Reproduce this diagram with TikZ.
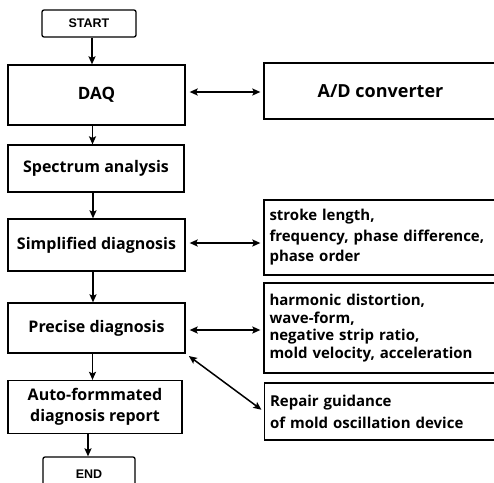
\documentclass[tikz,border=0pt]{standalone}
\usepackage{fontspec}
\setmainfont{Open Sans}
\newfontfamily\termfont{Liberation Sans}
\usetikzlibrary{calc}
\usetikzlibrary{arrows.meta}

\tikzset{
  box/.style={draw, line width=1.3pt, inner sep=2pt, align=center, font=\bfseries\fontsize{16}{19}\selectfont},
  termbox/.style={draw, line width=1.3pt, rounded corners=2pt, font=\termfont\bfseries\fontsize{12.5}{14}\selectfont},
  infobox/.style={draw, line width=1.3pt, inner sep=5pt, align=left, text width=222pt, minimum width=233pt, font=\bfseries\fontsize{15}{18}\selectfont},
  flow/.style={-{Stealth[length=8pt,width=7pt,inset=1.5pt]}, line width=1.5pt},
  both/.style={{Stealth[length=8pt,width=7pt,inset=1.5pt]}-{Stealth[length=8pt,width=7pt,inset=1.5pt]}, line width=1.5pt, shorten <=4pt, shorten >=3pt}
}

\begin{document}
\begin{tikzpicture}[x=1pt,y=-1pt]
\useasboundingbox (0,0) rectangle (494,482);
\clip (0,0) rectangle (494,482);
% flow column
\node[termbox, minimum width=94pt, minimum height=27pt] (start) at (89,23.5) {START};
\node[box, minimum width=177pt, minimum height=60pt, font=\bfseries\fontsize{17}{20}\selectfont] (daq) at (96.5,95) {DAQ};
\node[box, minimum width=176pt, minimum height=47pt] (spec) at (96,168.5) {Spectrum analysis};
\node[box, minimum width=177pt, minimum height=52pt] (simp) at (96.5,245) {Simplified diagnosis};
\node[box, minimum width=177pt, minimum height=50pt] (prec) at (96.5,328) {Precise diagnosis};
\node[box, minimum width=174pt, minimum height=53pt, font=\bfseries\fontsize{16}{20.5}\selectfont] (auto) at (95,407) {Auto-formmated\\diagnosis report};
\node[termbox, minimum width=92pt, minimum height=34pt] (end) at (89,474) {END};
% side boxes
\node[box, minimum width=233pt, minimum height=56pt, font=\bfseries\fontsize{18}{22}\selectfont] (ad) at (380.5,91) {A/D converter};
\node[infobox, minimum height=75pt, font=\bfseries\fontsize{15}{20.5}\selectfont] (stroke) at (380.5,237.5) {stroke length,\\frequency, phase difference,\\phase order};
\node[infobox, minimum height=90pt, font=\bfseries\fontsize{15}{17.5}\selectfont] (harm) at (380.5,328) {harmonic distortion,\\wave-form,\\negative strip ratio,\\mold velocity, acceleration};
\node[infobox, minimum height=57pt, font=\bfseries\fontsize{15}{22}\selectfont] (rep) at (381,411.5) {Repair guidance\\of mold oscillation device};
% arrows
\draw[flow] ([xshift=3pt]start.south) -- ([xshift=3pt]start.south |- daq.north);
\draw[flow] ([xshift=-4pt]daq.south) -- ([xshift=-4pt]daq.south |- spec.north);
\draw[flow] ([xshift=-3pt]spec.south) -- ([xshift=-3pt]spec.south |- simp.north);
\draw[flow] ([xshift=-3.5pt]simp.south) -- ([xshift=-3.5pt]simp.south |- prec.north);
\draw[flow] ([xshift=-4pt]prec.south) -- ([xshift=-4pt]prec.south |- auto.north);
\draw[flow] ([xshift=-7pt]auto.south) -- ([xshift=-7pt]auto.south |- end.north);
\draw[both] ([yshift=3pt]daq.east) -- ([yshift=3pt]daq.east -| ad.west);
\draw[both] ([yshift=2pt]simp.east) -- ([yshift=2pt]simp.east -| stroke.west);
\draw[both] ([yshift=-2pt]prec.east) -- ([yshift=-2pt]prec.east -| harm.west);
\draw[both] (prec.south east) -- (rep.west);
\end{tikzpicture}
\end{document}
